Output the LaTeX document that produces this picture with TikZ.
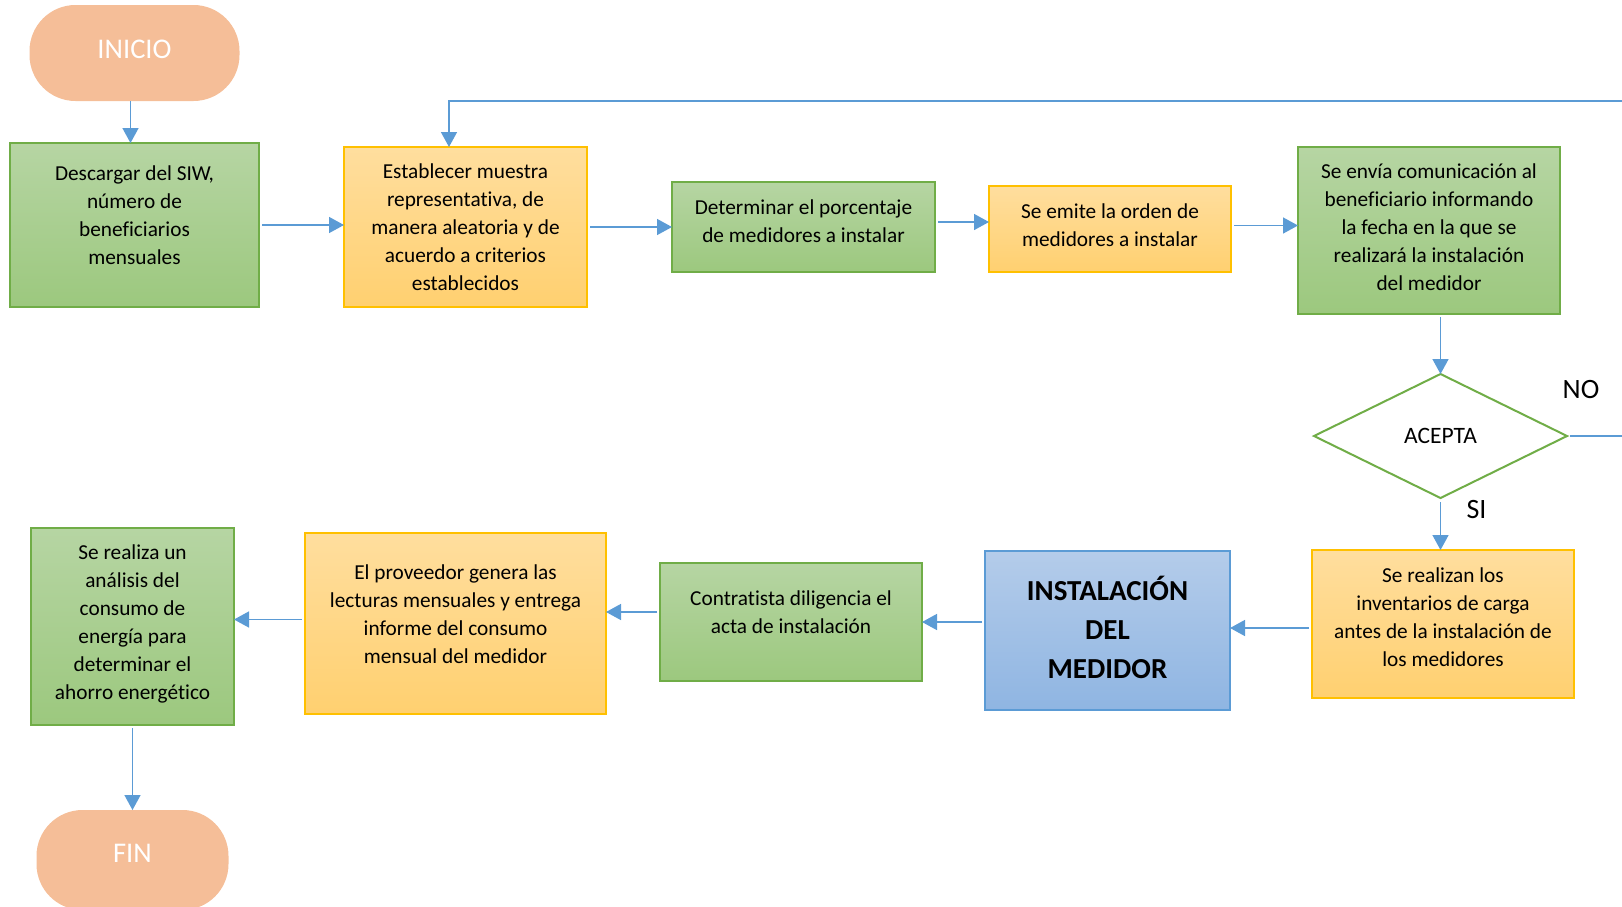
\documentclass[tikz,border=0pt]{standalone}
\usepackage{fontspec}
\setmainfont{Carlito}[Ligatures=NoCommon]
\usepackage{tikz}
\usetikzlibrary{arrows.meta}
\usetikzlibrary{positioning}
\usetikzlibrary{shapes.geometric}
\definecolor{verdeA}{RGB}{182,213,163}
\definecolor{verdeB}{RGB}{156,200,126}
\definecolor{verdeL}{RGB}{112,173,71}
\definecolor{amarA}{RGB}{255,222,158}
\definecolor{amarB}{RGB}{255,208,112}
\definecolor{amarL}{RGB}{255,192,0}
\definecolor{azulA}{RGB}{180,204,234}
\definecolor{azulB}{RGB}{143,181,226}
\definecolor{azulL}{RGB}{91,155,213}
\definecolor{durazno}{RGB}{245,190,152}
\definecolor{linea}{RGB}{91,155,213}
\newcommand{\bajar}[1]{\rule[-#1]{0pt}{0pt}}

\begin{document}
\begin{tikzpicture}[x=1pt,y=-1pt,
    caja/.style={rectangle, line width=1.5pt, align=center, inner sep=0pt, outer sep=0pt,
      font=\fontsize{21.3}{28}\selectfont},
    verde/.style={caja, draw=verdeL, top color=verdeA, bottom color=verdeB},
    amarilla/.style={caja, draw=amarL, top color=amarA, bottom color=amarB},
    azul/.style={caja, draw=azulL, top color=azulA, bottom color=azulB,
      font=\bfseries\fontsize{29}{38.8}\selectfont},
    terminal/.style={rectangle, rounded corners=46pt, fill=durazno, text=white,
      inner sep=0pt, outer sep=0pt, font=\fontsize{28.5}{34}\selectfont},
    decision/.style={diamond, draw=verdeL, line width=2pt, fill=white, inner sep=0pt,
      outer sep=0pt, font=\fontsize{23.5}{28}\selectfont},
    flecha/.style={draw=linea, line width=1.5pt, -{Triangle[length=15pt,width=16pt]},
      shorten <=3pt},
    etiqueta/.style={font=\fontsize{28}{34}\selectfont}]
  \useasboundingbox (0,0) rectangle (1622,906);
  \clip (0,0) rectangle (1622,906);

  \node[verde, minimum width=249pt, minimum height=164pt] (descargar) at (134.5,225)
    {Descargar del SIW,\\número de\\beneficiarios\\mensuales\bajar{20pt}};
  \node[terminal, minimum width=210pt, minimum height=96pt, above=42pt of descargar] (inicio) {INICIO\bajar{8pt}};
  \node[amarilla, minimum width=243pt, minimum height=160pt, right=85pt of descargar, yshift=-2pt] (establecer)
    {Establecer muestra\\representativa, de\\manera aleatoria y de\\acuerdo a criterios\\establecidos};
  \node[verde, minimum width=263pt, minimum height=90pt, right=85pt of establecer] (porcentaje)
    {Determinar el porcentaje\\de medidores a instalar\bajar{12pt}};
  \node[amarilla, minimum width=242pt, minimum height=86pt, right=54pt of porcentaje, yshift=-2pt] (orden)
    {Se emite la orden de\\medidores a instalar\bajar{8pt}};
  \node[verde, minimum width=262pt, minimum height=167pt, right=67pt of orden, yshift=-1.5pt] (comunicacion)
    {Se envía comunicación al\\beneficiario informando\\la fecha en la que se\\realizará la instalación\\del medidor\bajar{6pt}};
  \node[decision, minimum width=253pt, minimum height=124pt, below=60pt of comunicacion, xshift=11.5pt] (acepta) {ACEPTA};
  \node[etiqueta] (no) at ([shift={(14pt,46pt)}]acepta.east) {NO};
  \node[etiqueta] (si) at ([shift={(36pt,-11pt)}]acepta.south) {SI};
  \node[amarilla, minimum width=262pt, minimum height=148pt, below=52pt of acepta, xshift=2.5pt] (inventarios)
    {Se realizan los\\inventarios de carga\\antes de la instalación de\\los medidores\bajar{13pt}};
  \node[azul, minimum width=245pt, minimum height=159pt, left=82pt of inventarios, yshift=-6.5pt] (instalacion)
    {INSTALACIÓN\\DEL\\MEDIDOR\bajar{6pt}};
  \node[verde, minimum width=262pt, minimum height=118pt, left=63pt of instalacion, yshift=8.5pt] (contratista)
    {Contratista diligencia el\\acta de instalación\bajar{20pt}};
  \node[amarilla, minimum width=301pt, minimum height=181pt, left=54pt of contratista, yshift=-1.5pt] (proveedor)
    {El proveedor genera las\\lecturas mensuales y entrega\\informe del consumo\\mensual del medidor\bajar{18pt}};
  \node[verde, minimum width=203pt, minimum height=197pt, left=71pt of proveedor, yshift=-3pt] (analisis)
    {Se realiza un\\análisis del\\consumo de\\energía para\\determinar el\\ahorro energético\bajar{8pt}};
  \node[terminal, minimum width=192pt, minimum height=100pt, below=85pt of analisis] (fin) {FIN\bajar{14pt}};

  \coordinate (retorno) at ([xshift=-16.5pt]establecer.north |- 0,101);

  \draw[flecha, shorten <=0pt] ([xshift=-4pt]inicio.south) -- ([xshift=-4pt]descargar.north);
  \draw[flecha] (descargar.east) -- (descargar.east -| establecer.west);
  \draw[flecha] (establecer.east) -- (porcentaje.west);
  \draw[flecha] ([yshift=5pt]porcentaje.east) -- ([yshift=5pt]porcentaje.east -| orden.west);
  \draw[flecha] ([yshift=3.5pt]orden.east) -- ([yshift=3.5pt]orden.east -| comunicacion.west);
  \draw[flecha] (comunicacion.south -| acepta.north) -- (acepta.north);
  \draw[flecha] (acepta.east) -- ++(120,0) |- (retorno) -- ([xshift=-16.5pt]establecer.north);
  \draw[flecha, shorten <=4pt] (acepta.south) -- (acepta.south |- inventarios.north);
  \draw[flecha] ([yshift=2.5pt]instalacion.east -| inventarios.west) -- ([yshift=2.5pt]instalacion.east);
  \draw[flecha] (contratista.east -| instalacion.west) -- (contratista.east);
  \draw[flecha] ([yshift=10pt]contratista.west) -- ([yshift=10pt]contratista.west -| proveedor.east);
  \draw[flecha] ([yshift=4pt]proveedor.west) -- ([yshift=4pt]proveedor.west -| analisis.east);
  \draw[flecha] (analisis.south) -- (fin.north);
\end{tikzpicture}
\end{document}
